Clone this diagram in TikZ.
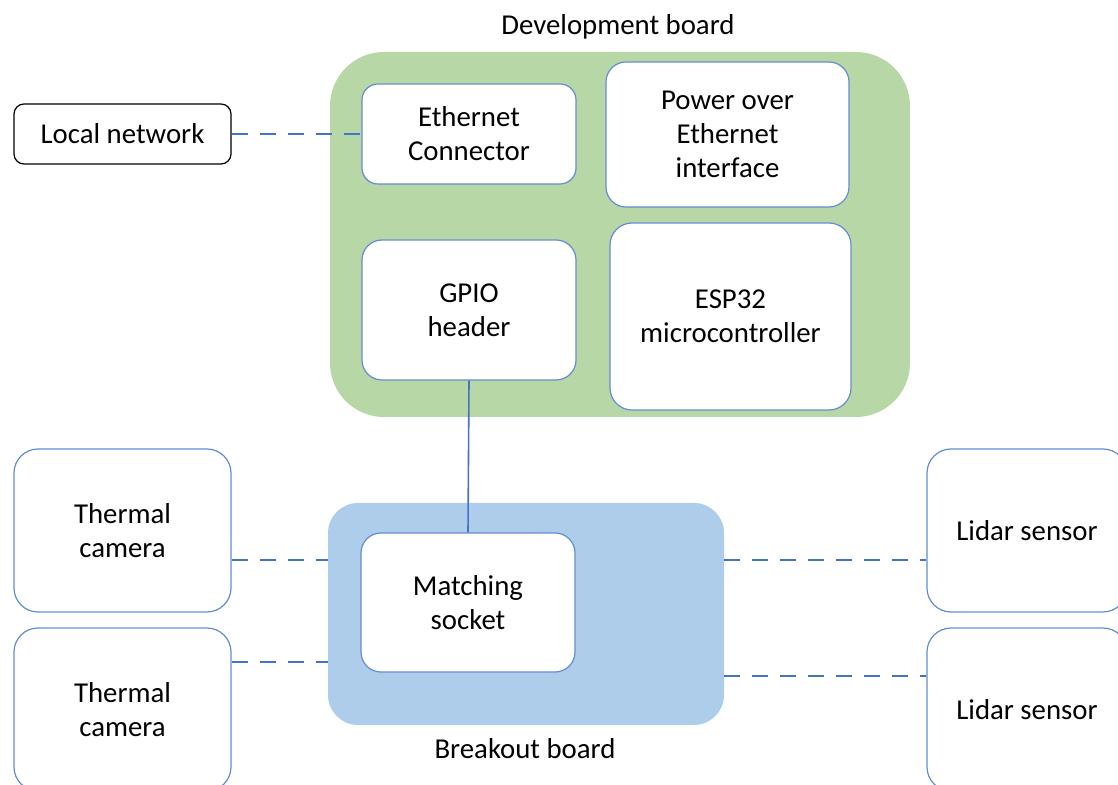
\documentclass[tikz,border=0pt]{standalone}
\usepackage{fontspec}
\setmainfont{Carlito}
\usetikzlibrary{positioning}
\definecolor{devgreen}{RGB}{184,215,167}
\definecolor{brkblue}{RGB}{174,205,234}
\definecolor{edge}{RGB}{68,114,196}
\definecolor{rim}{RGB}{100,140,210}

\begin{document}
\begin{tikzpicture}[x=0.5pt, y=-0.5pt,
  font=\fontsize{14.4}{17}\selectfont,
  board/.style={rounded corners=#1, inner sep=0pt},
  box/.style={draw=rim, fill=white, rounded corners=#1, align=center, inner sep=0pt, line width=0.6pt},
  link/.style={draw=edge, line width=1.1pt, dash pattern=on 8pt off 6pt},
  wire/.style={draw=edge, line width=0.8pt}]
\useasboundingbox (0,0) rectangle (1118,785);
\clip (0,0) rectangle (1118,785);
% boards
\node (dev) [board=27pt, fill=devgreen, minimum width=290pt, minimum height=182.5pt] at (620,234.5) {};
\node (devlabel) at (618,27) {Development board};
\node (brk) [board=15pt, fill=brkblue, minimum width=198pt, minimum height=111pt] at (526,614) {};
\node (brklabel) at (525,749) {Breakout board};
% parts on the development board
\node (eth) [box=8pt, minimum width=107pt, minimum height=50pt] at (469,134) {Ethernet\\Connector};
\node (poe) [box=10pt, minimum width=121.5pt, minimum height=72.5pt] at (727.5,134.5) {Power over\\Ethernet\\interface};
\node (gpio) [box=10pt, minimum width=107pt, minimum height=70pt] at (469,310) {GPIO\\header};
\node (esp) [box=11pt, minimum width=120.5pt, minimum height=93.5pt] at (730.5,316.5) {ESP32\\microcontroller};
\node (sock) [box=10pt, minimum width=107pt, minimum height=69.5pt] at (468,602.5) {Matching\\socket};
% outside
\node (net) [box=5pt, draw=black, minimum width=108.5pt, minimum height=30pt] at (122.5,134) {Local network};
\node (cam1) [box=12pt, minimum width=108.5pt, minimum height=81.5pt] at (122.5,530.5) {Thermal\\camera};
\node (cam2) [box=12pt, minimum width=108.5pt, minimum height=81.5pt] at (122.5,709.5) {Thermal\\camera};
\node (lid1) [box=12pt, minimum width=100pt, minimum height=81.5pt] at (1027,530.5) {Lidar sensor};
\node (lid2) [box=12pt, minimum width=100pt, minimum height=81.5pt] at (1027,709.5) {Lidar sensor};
% connections
\draw [link] (net.east) -- (eth.west);
\draw [wire] (gpio.south) -- (sock.north);
\draw [link] ([yshift=-14.75pt]cam1.east) -- ([yshift=-14.75pt]cam1.east -| brk.west);
\draw [link] ([yshift=23.75pt]cam2.east) -- ([yshift=23.75pt]cam2.east -| brk.west);
\draw [link] ([yshift=-14.75pt]lid1.west -| brk.east) -- ([yshift=-14.75pt]lid1.west);
\draw [link] ([yshift=16.75pt]lid2.west -| brk.east) -- ([yshift=16.75pt]lid2.west);
\end{tikzpicture}
\end{document}
